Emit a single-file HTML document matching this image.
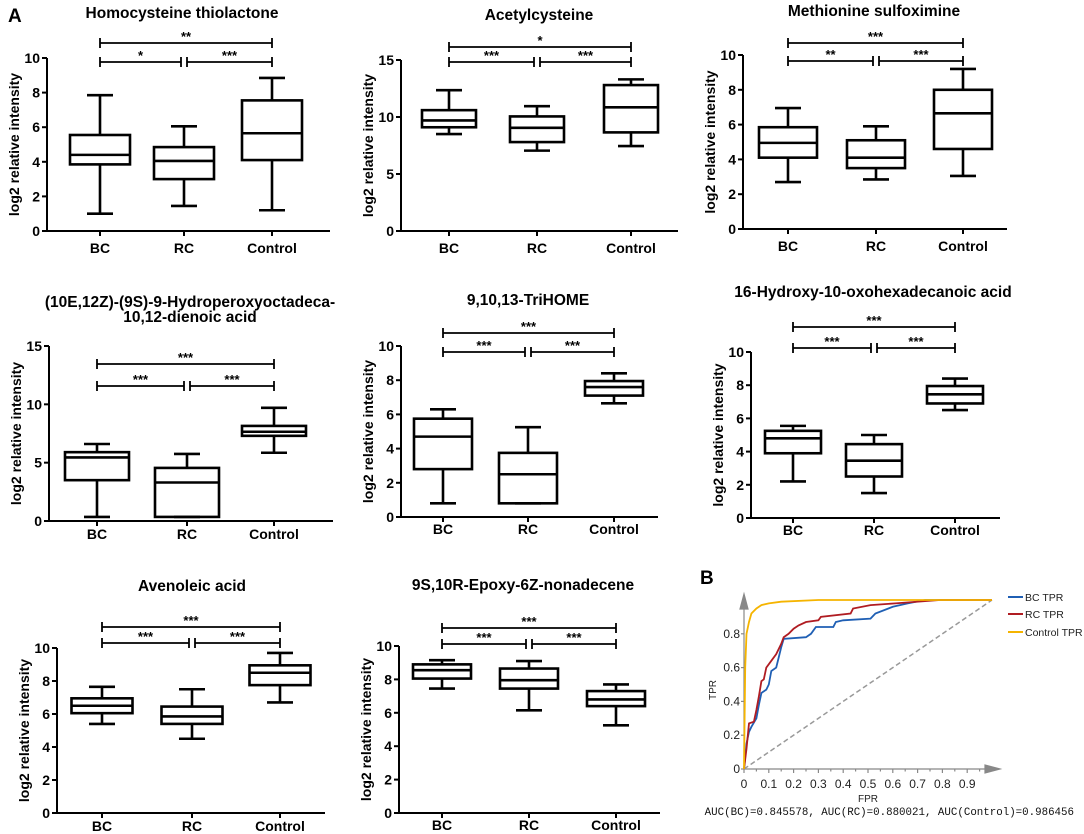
<!DOCTYPE html>
<html><head><meta charset="utf-8">
<style>
body{margin:0;background:#fff;}
svg{display:block;font-family:"Liberation Sans",Arial,sans-serif;}
</style></head>
<body>
<svg id="fig" width="1084" height="834" viewBox="0 0 1084 834"></svg>
<script>
// ---------- data ----------
const categories = ["BC","RC","Control"];
const titles = [
  ["Homocysteine thiolactone"],["Acetylcysteine"],["Methionine sulfoximine"],
  ["(10E,12Z)-(9S)-9-Hydroperoxyoctadeca-","10,12-dienoic acid"],["9,10,13-TriHOME"],["16-Hydroxy-10-oxohexadecanoic acid"],
  ["Avenoleic acid"],["9S,10R-Epoxy-6Z-nonadecene"]
];
// [min, q1, median, q3, max] per group
const bcStats = [
  [1,3.85,4.4,5.55,7.85],[8.5,9.1,9.7,10.6,12.35],[2.7,4.1,4.95,5.85,6.95],
  [0.35,3.5,5.45,5.9,6.6],[0.8,2.8,4.7,5.75,6.3],[2.2,3.9,4.8,5.25,5.55],
  [5.4,6.05,6.5,6.95,7.65],[7.45,8.05,8.55,8.9,9.15]];
const rcStats = [
  [1.45,3,4.05,4.85,6.05],[7.05,7.8,9.05,10.05,10.95],[2.85,3.5,4.1,5.1,5.9],
  [0.35,0.35,3.3,4.55,5.75],[0.8,0.8,2.5,3.75,5.25],[1.5,2.5,3.45,4.45,5],
  [4.5,5.4,5.85,6.45,7.5],[6.15,7.45,7.95,8.65,9.1]];
const ctrlStats = [
  [1.2,4.1,5.65,7.55,8.85],[7.45,8.65,10.85,12.8,13.3],[3.05,4.6,6.65,8,9.2],
  [5.85,7.3,7.65,8.15,9.7],[6.65,7.1,7.6,7.95,8.4],[6.5,6.9,7.45,7.95,8.4],
  [6.7,7.75,8.5,8.95,9.7],[5.25,6.4,6.8,7.3,7.7]];
const starsBcRc = ["*","***","**","***","***","***","***","***"];
const starsRcCtrl = ["***","***","***","***","***","***","***","***"];
const starsBcCtrl = ["**","*","***","***","***","***","***","***"];
const yMaxes = [10,15,10,15,10,10,10,10];
const yTickStep = [2,5,2,5,2,2,2,2];

// ROC data
const fprBC = [0,0.01,0.02,0.03,0.05,0.06,0.07,0.09,0.1,0.11,0.13,0.14,0.15,0.16,0.25,0.27,0.29,0.36,0.37,0.4,0.51,0.53,0.6,0.66,0.73,1];
const tprBC = [0,0.15,0.22,0.25,0.3,0.38,0.45,0.47,0.5,0.58,0.6,0.66,0.72,0.77,0.78,0.8,0.84,0.84,0.87,0.88,0.89,0.92,0.96,0.98,1,1];
const fprRC = [0,0.01,0.02,0.04,0.05,0.06,0.07,0.08,0.09,0.11,0.13,0.15,0.16,0.18,0.2,0.22,0.25,0.3,0.31,0.43,0.44,0.51,0.61,0.79,1];
const tprRC = [0,0.12,0.27,0.28,0.35,0.43,0.52,0.53,0.6,0.64,0.68,0.74,0.78,0.8,0.83,0.85,0.87,0.88,0.9,0.92,0.95,0.97,0.98,1,1];
const fprCtrl = [0,0.005,0.01,0.02,0.03,0.05,0.07,0.1,0.15,0.3,1];
const tprCtrl = [0,0.6,0.8,0.87,0.92,0.95,0.97,0.98,0.99,1,1];
const rocTicksX = [0,0.1,0.2,0.3,0.4,0.5,0.6,0.7,0.8,0.9];
const rocTicksY = [0,0.2,0.4,0.6,0.8];

// ---------- layout (pixels) ----------
const layout = [
 {ax:47, y0:231,yT:58, xEnd:330, cx:[100,184,272], bw:60, b1:43, b2:62, ty:[18], tx:182, lab:253},
 {ax:401,y0:231,yT:60, xEnd:678, cx:[449,537,631], bw:54, b1:47, b2:62, ty:[20], tx:539, lab:253},
 {ax:743,y0:229,yT:55, xEnd:1007,cx:[788,876,963], bw:58, b1:43, b2:61, ty:[16], tx:874, lab:251},
 {ax:49, y0:521,yT:346,xEnd:333, cx:[97,187,274],  bw:64, b1:364,b2:386,ty:[307,322],tx:190, lab:539},
 {ax:401,y0:517,yT:346,xEnd:658, cx:[443,528,614], bw:58, b1:333,b2:352,ty:[305], tx:528, lab:534},
 {ax:751,y0:518,yT:352,xEnd:1000,cx:[793,874,955], bw:56, b1:327,b2:348,ty:[297], tx:873, lab:535},
 {ax:57, y0:813,yT:648,xEnd:325, cx:[102,192,280], bw:61, b1:627,b2:643,ty:[591], tx:192, lab:831},
 {ax:399,y0:813,yT:646,xEnd:660, cx:[442,529,616], bw:58, b1:628,b2:644,ty:[590], tx:523, lab:830}
];

const NS="http://www.w3.org/2000/svg";
const svg=document.getElementById('fig');
function mk(tag,attrs,parent){const e=document.createElementNS(NS,tag);for(const k in attrs)e.setAttribute(k,attrs[k]);(parent||svg).appendChild(e);return e;}
function txt(s,attrs,parent){const e=mk('text',attrs,parent);e.textContent=s;return e;}

const lab=txt("A",{x:8,y:22,"font-size":19,"font-weight":"bold"});



const allStats=[bcStats,rcStats,ctrlStats];
layout.forEach((L,i)=>{
  const g=mk('g',{});
  
  
  const ys=v=>L.y0-(v/yMaxes[i])*(L.y0-L.yT);
  L.ty.forEach((ty,k)=>{const t=txt(titles[i][k],{x:L.tx,y:ty,"font-size":15.5,"font-weight":"bold","text-anchor":"middle"},g);
    
    });
  const yax=mk('line',{x1:L.ax,y1:L.yT,x2:L.ax,y2:L.y0,stroke:"#000","stroke-width":2},g);
  
  
  const xax=mk('line',{x1:L.ax,y1:L.y0,x2:L.xEnd,y2:L.y0,stroke:"#000","stroke-width":2},g);
  
  
  for(let v=0;v<=yMaxes[i];v+=yTickStep[i]){
    const y=ys(v);
    mk('line',{x1:L.ax-5,y1:y,x2:L.ax,y2:y,stroke:"#000","stroke-width":2},g);
    const t=txt(String(v),{x:L.ax-7,y:y+5,"font-size":14,"font-weight":"bold","text-anchor":"end"},g);
    
    
  }
  const yl=txt("log2 relative intensity",{x:0,y:0,"font-size":14,"font-weight":"bold","text-anchor":"middle",transform:`translate(${L.ax-28},${(L.y0+L.yT)/2}) rotate(-90)`},g);
  
  
  categories.forEach((c,j)=>{
    const x=L.cx[j];
    mk('line',{x1:x,y1:L.y0,x2:x,y2:L.y0+5,stroke:"#000","stroke-width":2},g);
    const t=txt(c,{x:x,y:L.lab,"font-size":14,"font-weight":"bold","text-anchor":"middle"},g);
    
    
    const s=allStats[j][i];
    const bg=mk('g',{fill:"none",stroke:"#000","stroke-width":2.6},g);
    
    
    const hw=L.bw/2, cw=13;
    mk('line',{x1:x,y1:ys(s[0]),x2:x,y2:ys(s[1])},bg);
    mk('line',{x1:x,y1:ys(s[3]),x2:x,y2:ys(s[4])},bg);
    mk('line',{x1:x-cw,y1:ys(s[0]),x2:x+cw,y2:ys(s[0])},bg);
    mk('line',{x1:x-cw,y1:ys(s[4]),x2:x+cw,y2:ys(s[4])},bg);
    mk('rect',{x:x-hw,y:ys(s[3]),width:L.bw,height:Math.max(ys(s[1])-ys(s[3]),0.5)},bg);
    mk('line',{x1:x-hw,y1:ys(s[2]),x2:x+hw,y2:ys(s[2])},bg);
  });
  function bracket(x1,x2,y,label){
    const bgp=mk('g',{stroke:"#000","stroke-width":1.8},g);
    
    
    mk('line',{x1:x1,y1:y,x2:x2,y2:y},bgp);
    mk('line',{x1:x1,y1:y-5,x2:x1,y2:y+5},bgp);
    mk('line',{x1:x2,y1:y-5,x2:x2,y2:y+5},bgp);
    const t=txt(label,{x:(x1+x2)/2,y:y-2,"font-size":13,"font-weight":"bold","text-anchor":"middle",stroke:"none"},g);
    
    
  }
  bracket(L.cx[0],L.cx[2],L.b1,starsBcCtrl[i]);
  bracket(L.cx[0],L.cx[1]-3,L.b2,starsBcRc[i]);
  bracket(L.cx[1]+3,L.cx[2],L.b2,starsRcCtrl[i]);
});

// ---------- ROC ----------
const R={x0:744,y0:769,sx:248,sy:169};
const rx=v=>R.x0+v*R.sx, ry=v=>R.y0-v*R.sy;
const rg=mk('g',{});


const bl=txt("B",{x:700,y:584,"font-size":19,"font-weight":"bold"},rg);


const rax=mk('g',{stroke:"#888","stroke-width":1.2,fill:"#888"},rg);


mk('line',{x1:R.x0,y1:R.y0,x2:997,y2:R.y0},rax);
mk('polygon',{points:`1000,${R.y0} 985,${R.y0-4} 985,${R.y0+4}`},rax);
mk('line',{x1:R.x0,y1:R.y0,x2:R.x0,y2:597},rax);
mk('polygon',{points:`${R.x0},594 ${R.x0-4},609 ${R.x0+4},609`},rax);
rocTicksX.forEach(v=>{
  mk('line',{x1:rx(v),y1:R.y0,x2:rx(v),y2:R.y0+4},rax);
  if(v<0.95) mk('line',{x1:rx(v+0.05),y1:R.y0,x2:rx(v+0.05),y2:R.y0+2.5},rax);
  const t=txt(String(v),{x:rx(v),y:788,"font-size":12,"text-anchor":"middle",fill:"#222",stroke:"none"},rg);
  
  
});
rocTicksY.forEach(v=>{
  mk('line',{x1:R.x0-3,y1:ry(v),x2:R.x0,y2:ry(v)},rax);
  const t=txt(String(v),{x:R.x0-4,y:ry(v)+4,"font-size":12,"text-anchor":"end",fill:"#222",stroke:"none"},rg);
  
  
});
const fx=txt("FPR",{x:rx(0.5),y:802,"font-size":10,"text-anchor":"middle",fill:"#222"},rg);


const fy=txt("TPR",{x:0,y:0,"font-size":10,"text-anchor":"middle",fill:"#222",transform:"translate(716,690) rotate(-90)"},rg);


const diag=mk('line',{x1:rx(0),y1:ry(0),x2:rx(1),y2:ry(1),stroke:"#999","stroke-width":1.5,"stroke-dasharray":"5,3"},rg);


function curve(fx_,ty_,col,name){
  let d="";
  fx_.forEach((f,k)=>{d+=(k?"L":"M")+rx(f).toFixed(1)+","+ry(ty_[k]).toFixed(1);});
  const p=mk('path',{d:d,fill:"none",stroke:col,"stroke-width":1.8},rg);
  
  
}
curve(fprBC,tprBC,"#1f5fb4","roc-curve-bc");
curve(fprRC,tprRC,"#b01c22","roc-curve-rc");
curve(fprCtrl,tprCtrl,"#f5b400","roc-curve-control");
[["BC TPR","#1f5fb4",597],["RC TPR","#b01c22",614],["Control TPR","#f5b400",632]].forEach(e=>{
  const lg=mk('g',{},rg);
  
  
  mk('line',{x1:1008,y1:e[2],x2:1023,y2:e[2],stroke:e[1],"stroke-width":2},lg);
  txt(e[0],{x:1025,y:e[2]+4,"font-size":10.5,fill:"#222"},lg);
});
const auc=txt("AUC(BC)=0.845578, AUC(RC)=0.880021, AUC(Control)=0.986456",{x:1074,y:815,"font-size":10.8,"text-anchor":"end","font-family":"Liberation Mono, monospace",fill:"#111"},rg);


</script>
</body></html>
